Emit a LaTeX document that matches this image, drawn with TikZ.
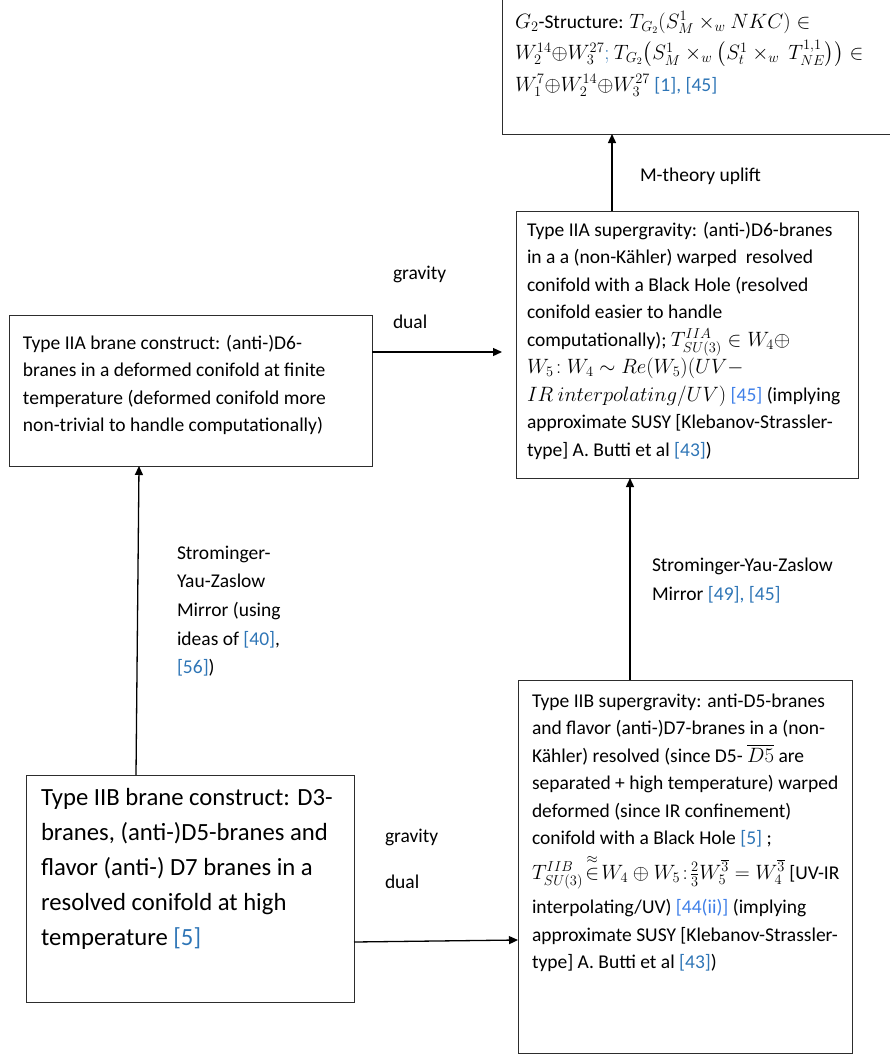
\documentclass[tikz,border=0pt]{standalone}
\usepackage{amsmath}
\usepackage{fontspec}
\setmainfont{Carlito}
\usetikzlibrary{arrows.meta}
\definecolor{cite}{RGB}{46,117,182}
\definecolor{citeb}{RGB}{64,128,232}
\definecolor{frame}{RGB}{45,45,45}
\newcommand{\cit}[1]{\textcolor{cite}{#1}}
\newcommand{\citb}[1]{\textcolor{citeb}{#1}}
\tikzset{
  box/.style={draw=frame, line width=1pt, rectangle, inner sep=0pt, outer sep=0pt, anchor=north west},
  txt/.style={anchor=north west, inner sep=0pt, outer sep=0pt, align=left, font=\fontsize{19.5}{27.5}\selectfont},
  bigtxt/.style={anchor=north west, inner sep=0pt, outer sep=0pt, align=left, font=\fontsize{24.7}{35}\selectfont},
  arr/.style={line width=1.3pt, -{Triangle[length=9pt,width=8pt]}},
}
\begin{document}
\begin{tikzpicture}[x=1pt,y=-1pt]
\useasboundingbox (0,0) rectangle (889,1055);
% boxes
\node[box, minimum width=390, minimum height=136] (g2) at (502,-2) {};
\node[box, minimum width=342, minimum height=267] (sugraA) at (516,211) {};
\node[box, minimum width=363, minimum height=151] (braneA) at (9,315) {};
\node[box, minimum width=328, minimum height=227] (braneB) at (26,775) {};
\node[box, minimum width=334, minimum height=373] (sugraB) at (518,680) {};
% texts
\node[txt, font=\fontsize{19.5}{31.5}\selectfont] (g2t) at (515,6) {\strut$G_2$-Structure: $T_{G_2}(S^1_M\times_w NKC)\in$\\
$W_2^{14}{\oplus}W_3^{27}$\cit{$;$}\ $T_{G_2}\bigl(S^1_M\times_w\bigl(S^1_t\times_w\ T^{1,1}_{NE}\bigr)\bigr)\in$\\
$W_1^{7}{\oplus}W_2^{14}{\oplus}W_3^{27}$ \cit{[1], [45]}};
\node[txt] (sugraAt) at (527,217) {\strut Type IIA supergravity: (anti-)D6-branes\\
in a a (non-Kähler) warped\ \ resolved\\
conifold with a Black Hole (resolved\\
conifold easier to handle\\
computationally); $T^{IIA}_{SU(3)}\in W_4\oplus$\\
$W_5\!: W_4\sim Re(W_5)(UV-$\\
$IR\ interpolating/UV)$ \citb{[45]} (implying\\
approximate SUSY [Klebanov-Strassler-\\
type] A. Butti et al \cit{[43]})};
\node[txt] (braneAt) at (23,330) {\strut Type IIA brane construct: (anti-)D6-\\
branes in a deformed conifold at finite\\
temperature (deformed conifold more\\
non-trivial to handle computationally)};
\node[bigtxt] (braneBt) at (41,781) {\strut Type IIB brane construct: D3-\\
branes, (anti-)D5-branes and\\
flavor (anti-) D7 branes in a\\
resolved conifold at high\\
temperature \cit{[5]}};
\node[txt] (sugraBt) at (532,688) {\strut Type IIB supergravity: anti-D5-branes\\
and flavor (anti-)D7-branes in a (non-\\
Kähler) resolved (since D5- $\overline{D5}$ are\\
separated + high temperature) warped\\
deformed (since IR confinement)\\
conifold with a Black Hole \cit{[5]} ;\\[7pt]
$T^{IIB}_{SU(3)}\!\stackrel{\approx}{\in}\! W_4\oplus W_5\!:\!\frac{2}{3}W_5^{\overline{3}}=W_4^{\overline{3}}$ [UV-IR\\[7pt]
interpolating/UV) \citb{[44(ii)]} (implying\\
approximate SUSY [Klebanov-Strassler-\\
type] A. Butti et al \cit{[43]})};
% labels
\node[txt] (mlab) at (640,162) {\strut M-theory uplift};
\node[txt] (gd1) at (393,260) {\strut gravity\\[21.5pt]dual};
\node[txt] (gd2) at (385,823) {\strut gravity\\[19pt]dual};
\node[txt, font=\fontsize{19.5}{28.7}\selectfont] (syzl) at (177,539) {\strut Strominger-\\Yau-Zaslow\\Mirror (using\\ideas of \cit{[40]},\\\cit{[56]})};
\node[txt, font=\fontsize{19.5}{28.5}\selectfont] (syzr) at (652,552) {\strut Strominger-Yau-Zaslow\\Mirror \cit{[49], [45]}};
% connector coordinates
\coordinate (mx) at (612,0);
\coordinate (gd1end) at (502,352);
\coordinate (gd1y) at (0,352);
\coordinate (syzlb) at (136,0);
\coordinate (syzlt) at (139,0);
\coordinate (syzr) at (630,0);
\coordinate (gd2a) at (0,942);
\coordinate (gd2b) at (0,940);
% connectors
\draw[arr] (sugraA.north -| mx) -- (g2.south -| mx);
\draw[arr] (braneA.east |- gd1y) -- (gd1end);
\draw[arr] (braneB.north -| syzlb) -- (braneA.south -| syzlt);
\draw[arr] (sugraB.north -| syzr) -- (sugraA.south -| syzr);
\draw[arr] (braneB.east |- gd2a) -- (sugraB.west |- gd2b);
\end{tikzpicture}
\end{document}
